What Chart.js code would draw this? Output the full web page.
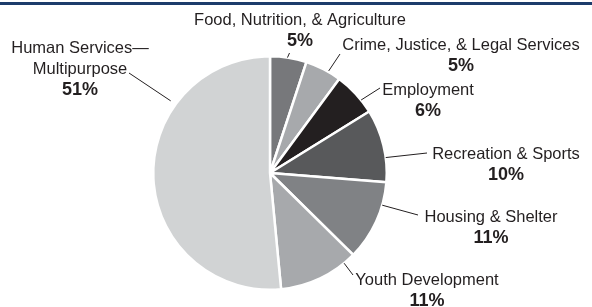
<!DOCTYPE html>
<html>
<head>
<meta charset="utf-8">
<script src="https://cdn.jsdelivr.net/npm/chart.js@4/dist/chart.umd.min.js"></script>
<style>
  html, body { margin: 0; padding: 0; background: #fff; }
  #wrap { width: 592px; height: 307px; position: relative; }
</style>
</head>
<body>
<div id="wrap"><canvas id="pieChart" width="592" height="307"></canvas></div>
<script>
// data
var categories = [
    'Food, Nutrition, & Agriculture',
    'Crime, Justice, & Legal Services',
    'Employment',
    'Recreation & Sports',
    'Housing & Shelter',
    'Youth Development',
    'Human Services\u2014Multipurpose'
];
var shares = [5, 5, 6, 10, 11, 11, 51];
var sliceColors = ['#77787b', '#a7a9ac', '#231f20', '#58595b', '#808285', '#a7a9ac', '#d1d3d4'];

// label layout: text lines, centre x, first line y
var labelLines = [
    ['Food, Nutrition, & Agriculture'],
    ['Crime, Justice, & Legal Services'],
    ['Employment'],
    ['Recreation & Sports'],
    ['Housing & Shelter'],
    ['Youth Development'],
    ['Human Services\u2014', 'Multipurpose']
];
var labelPos = [
    [300, 20], [461, 45], [428, 90], [506, 154], [491, 217], [427, 280], [80, 48]
];
// leader: angle on the pie (deg, clockwise from top), gap off the rim, end point
var leaders = [
    [8.6, 0, 289.5, 53],
    [29.9, 1, 340, 54],
    [51.3, 0, 380, 88],
    [82.4, 0, 427, 153],
    [106, 0, 418, 215],
    [140.6, 0, 353, 275],
    [306, 6, 129, 73]
];

var textColor = '#231f20';

var pieLabels = {
    id: 'pieLabels',
    afterDraw: function (chart) {
        var c = chart.ctx;
        var arc = chart.getDatasetMeta(0).data[0];
        var cx = arc.x, cy = arc.y, r = arc.outerRadius;

        // rule at the top
        c.save();
        c.fillStyle = '#1d3c6b';
        c.fillRect(0, 2, 592, 3);

        c.strokeStyle = textColor;
        c.lineWidth = 1;
        leaders.forEach(function (l) {
            var a = l[0] * Math.PI / 180;
            var rr = r + l[1];
            c.beginPath();
            c.moveTo(cx + rr * Math.sin(a), cy - rr * Math.cos(a));
            c.lineTo(l[2], l[3]);
            c.stroke();
        });

        c.fillStyle = textColor;
        c.textAlign = 'center';
        c.textBaseline = 'middle';
        labelLines.forEach(function (lines, i) {
            var x = labelPos[i][0], y = labelPos[i][1];
            c.font = '16.5px "Liberation Sans", Arial, sans-serif';
            lines.forEach(function (t, k) {
                c.fillText(t, x, y + k * 21);
            });
            c.font = 'bold 18px "Liberation Sans", Arial, sans-serif';
            c.fillText(shares[i] + '%', x, y + lines.length * 21);
        });
        c.restore();
    }
};

var ctx = document.getElementById('pieChart').getContext('2d');
var pieChart = new Chart(ctx, {
    type: 'pie',
    data: {
        labels: categories,
        datasets: [{
            data: shares,
            backgroundColor: sliceColors,
            borderColor: '#ffffff',
            borderWidth: 2.5
        }]
    },
    options: {
        responsive: false,
        animation: false,
        layout: {
            padding: { left: 152, top: 55, right: 204, bottom: 16 }
        },
        plugins: {
            legend: { display: false },
            tooltip: { enabled: false }
        }
    },
    plugins: [pieLabels]
});
</script>
</body>
</html>
